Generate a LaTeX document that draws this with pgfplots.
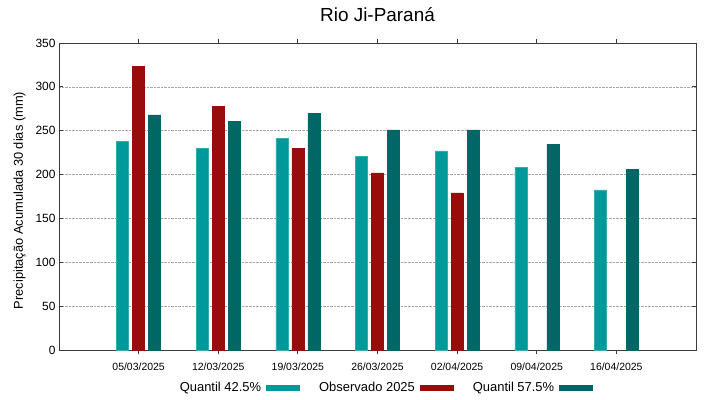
\documentclass[border=0pt]{standalone}
\usepackage{pgfplots}
\pgfplotsset{compat=1.18}
\usepackage{fontspec}
\setmainfont{Liberation Sans}
\definecolor{qlow}{RGB}{0,153,153}
\definecolor{obs}{RGB}{153,12,12}
\definecolor{qhigh}{RGB}{0,102,102}
\definecolor{axgray}{RGB}{60,60,60}
\begin{document}
\begin{tikzpicture}
\begin{axis}[
  name=ax,
  scale only axis,
  width=637bp, height=307bp,
  xmin=-1, xmax=7,
  ymin=0, ymax=350,
  ytick={0,50,...,350},
  xtick={0,1,2,3,4,5,6},
  xticklabels={05/03/2025,12/03/2025,19/03/2025,26/03/2025,02/04/2025,09/04/2025,16/04/2025},
  xticklabel style={font=\fontsize{10.5}{12}\selectfont, yshift=-5bp},
  yticklabel style={font=\fontsize{12}{14}\selectfont},
  /pgf/number format/assume math mode=true,
  tick align=inside,
  tick pos=both,
  major tick length=4bp,
  tick style={axgray, line width=0.8pt},
  axis line style={axgray, line width=0.9pt},
  ymajorgrids,
  grid style={gray!70, densely dotted, line width=0.6pt},
  ylabel={Precipitação Acumulada 30 dias (mm)},
  ylabel style={font=\fontsize{12.9}{15}\selectfont, yshift=3bp, xshift=-4bp},
  ybar=4bp,
  bar width=12bp,
  legend columns=3,
  legend plot pos=right,
  legend style={draw=none, at={(0.5,0)}, anchor=center, yshift=-38bp, xshift=8bp,
    font=\fontsize{13}{15}\selectfont, column sep=3bp, /tikz/every even column/.append style={column sep=17bp}},
  legend image code/.code={\draw[#1, draw=none] (0bp,-3bp) rectangle (34bp,3bp);},
]
\addplot[fill=qlow, draw=qlow!80!white] coordinates {(0,237.5) (1,230) (2,241) (3,221) (4,227) (5,208) (6,182.5)};
\addlegendentry{Quantil 42.5\%}
\addplot[fill=obs, draw=obs] coordinates {(0,323) (1,278) (2,230) (3,202) (4,179)};
\addlegendentry{Observado 2025}
\addplot[fill=qhigh, draw=qhigh] coordinates {(0,268) (1,261) (2,270) (3,251) (4,251) (5,234.5) (6,206)};
\addlegendentry{Quantil 57.5\%}
\end{axis}
\node[font=\fontsize{19}{22}\selectfont] at ([yshift=28bp]ax.north) {Rio Ji-Paraná};
\pgfresetboundingbox
\path[use as bounding box] ([shift={(-59bp,-49bp)}]ax.south west) rectangle ([shift={(23bp,43bp)}]ax.north east);
\end{tikzpicture}
\end{document}
